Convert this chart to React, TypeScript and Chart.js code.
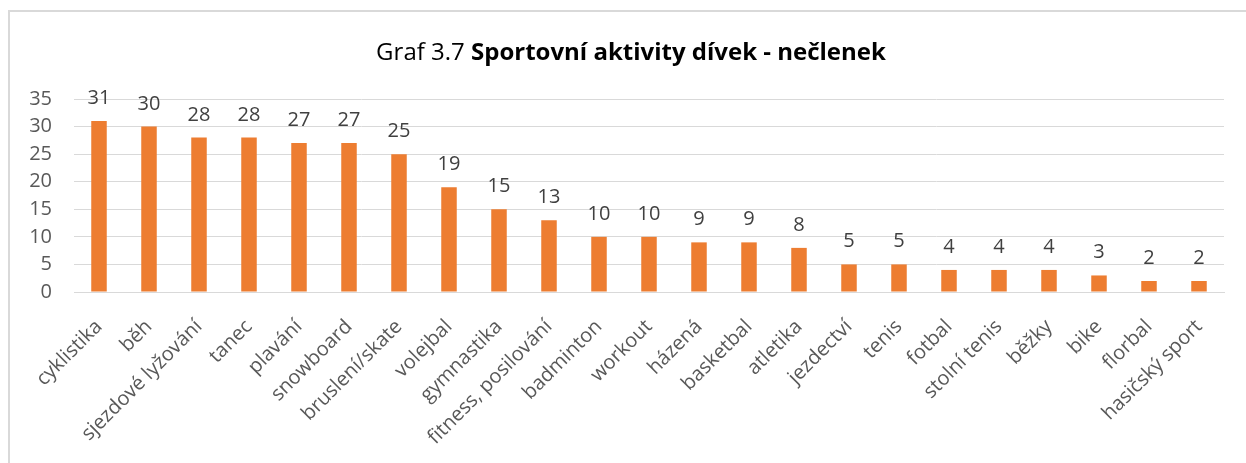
import React, { useEffect, useRef } from "react";
import { Chart, registerables } from "chart.js";

Chart.register(...registerables);

const categories = [
  "cyklistika", "běh", "sjezdové lyžování", "tanec", "plavání", "snowboard",
  "bruslení/skate", "volejbal", "gymnastika", "fitness, posilování", "badminton",
  "workout", "házená", "basketbal", "atletika", "jezdectví", "tenis", "fotbal",
  "stolní tenis", "běžky", "bike", "florbal", "hasičský sport",
];
const values = [31, 30, 28, 28, 27, 27, 25, 19, 15, 13, 10, 10, 9, 9, 8, 5, 5, 4, 4, 4, 3, 2, 2];
const titlePrefix = "Graf 3.7 ";
const titleBold = "Sportovní aktivity dívek - nečlenek";
const yTicks = [0, 5, 10, 15, 20, 25, 30, 35];

const FONT = "'Open Sans', 'Liberation Sans', sans-serif";

const framePlugin = {
  id: "frame",
  beforeDraw(chart: any) {
    const ctx = chart.ctx;
    ctx.save();
    ctx.strokeStyle = "#d9d9d9";
    ctx.lineWidth = 2;
    ctx.beginPath();
    ctx.moveTo(9, chart.height);
    ctx.lineTo(9, 11);
    ctx.lineTo(chart.width, 11);
    ctx.stroke();
    ctx.restore();
  },
};

const titlePlugin = {
  id: "mixedTitle",
  afterDraw(chart: any) {
    const ctx = chart.ctx;
    ctx.save();
    ctx.fillStyle = "#000000";
    ctx.textBaseline = "alphabetic";
    ctx.font = `24px ${FONT}`;
    const w1 = ctx.measureText(titlePrefix).width;
    ctx.font = `bold 24px ${FONT}`;
    const w2 = ctx.measureText(titleBold).width;
    const x0 = 631 - (w1 + w2) / 2;
    ctx.font = `24px ${FONT}`;
    ctx.textAlign = "left";
    ctx.fillText(titlePrefix, x0, 60);
    ctx.font = `bold 24px ${FONT}`;
    ctx.fillText(titleBold, x0 + w1, 60);
    ctx.restore();
  },
};

const labelPlugin = {
  id: "valueLabels",
  afterDatasetsDraw(chart: any) {
    const ctx = chart.ctx;
    const meta = chart.getDatasetMeta(0);
    ctx.save();
    ctx.fillStyle = "#404040";
    ctx.font = `20px ${FONT}`;
    ctx.textAlign = "center";
    ctx.textBaseline = "alphabetic";
    meta.data.forEach((bar: any, i: number) => {
      ctx.fillText(String(values[i]), bar.x, bar.y - 17);
    });
    ctx.restore();
  },
};

export default function App() {
  const ref = useRef<HTMLCanvasElement>(null);
  useEffect(() => {
    if (!ref.current) return;
    const chart = new Chart(ref.current, {
      type: "bar",
      data: {
        labels: categories,
        datasets: [
          {
            data: values,
            backgroundColor: "#ED7D31",
            borderWidth: 0,
            barPercentage: 0.31,
            categoryPercentage: 1,
          },
        ],
      },
      options: {
        responsive: false,
        animation: false,
        layout: { padding: { left: 0, right: 22, top: 99, bottom: 0 } },
        plugins: {
          legend: { display: false },
          title: { display: false },
          tooltip: { enabled: false },
        },
        scales: {
          x: {
            grid: { display: false, drawTicks: false },
            border: { display: true, color: "#d9d9d9", width: 1 },
            ticks: {
              color: "#595959",
              font: { family: FONT, size: 20 },
              minRotation: 45,
              maxRotation: 45,
              autoSkip: false,
              padding: 23,
            },
            afterFit(scale: any) {
              scale.height = 171;
            },
          },
          y: {
            min: 0,
            max: 35,
            afterBuildTicks(scale: any) {
              scale.ticks = yTicks.map((v) => ({ value: v }));
            },
            grid: { color: "#d9d9d9", drawTicks: false, lineWidth: 1 },
            border: { display: false },
            ticks: {
              color: "#595959",
              font: { family: FONT, size: 20 },
              padding: 22,
            },
            afterFit(scale: any) {
              scale.width = 74;
            },
          },
        },
      },
      plugins: [framePlugin, titlePlugin, labelPlugin],
    });
    return () => chart.destroy();
  }, []);
  return (
    <div style={{ position: "absolute", left: 0, top: 0, width: 1246, height: 463, background: "#fff" }}>
      <canvas ref={ref} width={1246} height={463} />
    </div>
  );
}
